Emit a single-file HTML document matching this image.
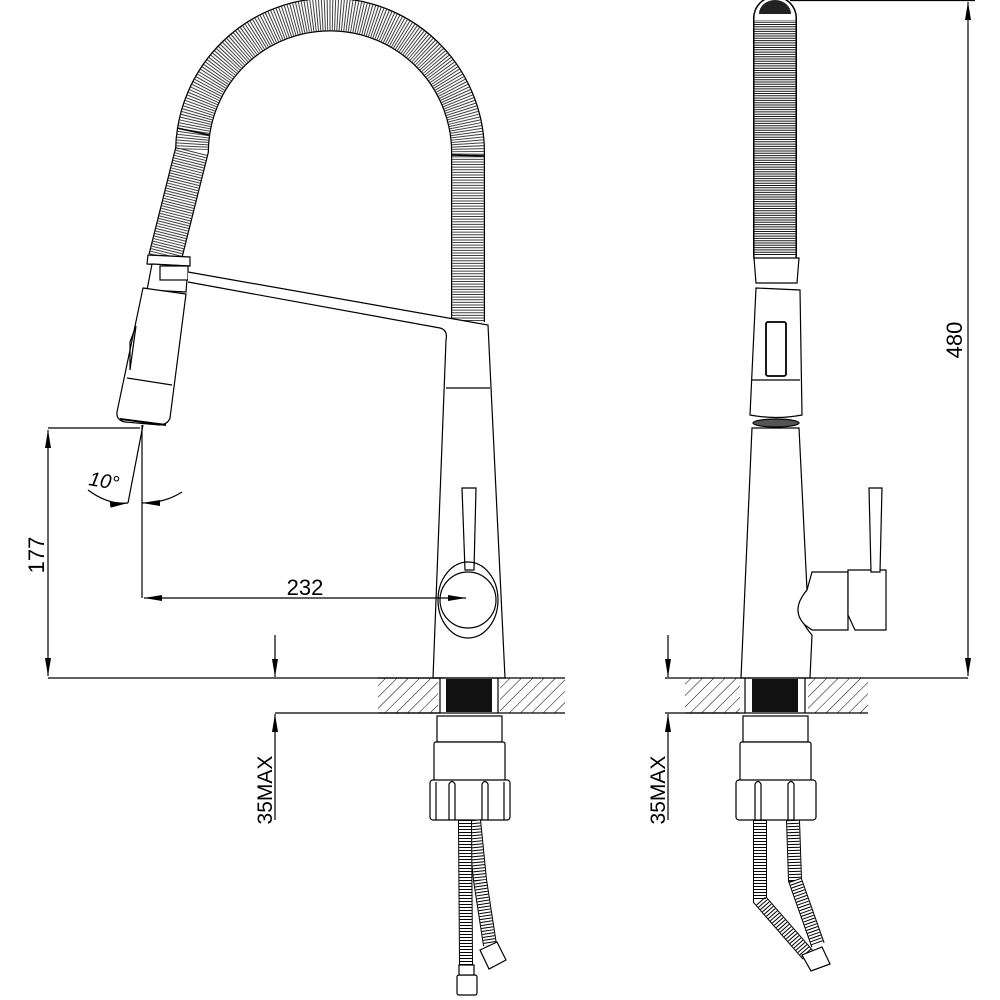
<!DOCTYPE html>
<html><head><meta charset="utf-8"><style>
html,body{margin:0;padding:0;background:#fff}
svg{display:block}
text{font-family:"Liberation Sans",sans-serif;fill:#000}
</style></head><body>
<svg width="1000" height="1000" viewBox="0 0 1000 1000" xmlns="http://www.w3.org/2000/svg">
<defs>
<pattern id="hatch" width="8" height="8" patternUnits="userSpaceOnUse" patternTransform="rotate(45)">
<line x1="0" y1="0" x2="0" y2="8" stroke="#000" stroke-width="1"/>
</pattern>
<marker id="ar" viewBox="0 0 18 6" refX="18" refY="3" markerWidth="18" markerHeight="6" orient="auto-start-reverse" markerUnits="userSpaceOnUse">
<path d="M0 0 L18 3 L0 6 Z" fill="#000"/>
</marker>
</defs>
<g fill="none" stroke="#000" stroke-width="1.2">

<!-- LEFT VIEW HOSE -->
<path d="M165 258 L192 150 A138 138 0 0 1 468 155 L468 322" stroke-width="34"/>
<path d="M165 258 L192 150 A138 138 0 0 1 468 155 L468 322" stroke="#fff" stroke-width="31.5"/>
<path d="M165 258 L192 150 A138 138 0 0 1 468 155 L468 322" stroke-width="31.5" stroke-dasharray="1 1.6" stroke-opacity="0.75"/>
<line x1="177" y1="128" x2="209" y2="135" stroke-width="1.5"/>
<line x1="452" y1="155" x2="485" y2="156" stroke-width="1.5"/>

<!-- collar & sleeve -->
<path d="M148 255 L190 257 L190 266 L147 264 Z" fill="#fff"/>
<path d="M152 264 L188 266 L186 292 L147 290 Z" fill="#fff"/>
<rect x="160" y="266" width="28" height="14" fill="#fff"/>
<!-- arm -->
<path d="M188 272 L488 325 L505 678 L433 678 L446 340 Q448 330 440 328 L188 282" fill="#fff"/>
<line x1="446" y1="388" x2="490" y2="388"/>
<!-- spray head -->
<path d="M143 288 L186 294 L170 418 Q168 424 160 425 L125 422 Q116 420 117 412 Z" fill="#fff"/>
<line x1="127" y1="378" x2="172" y2="385"/>
<path d="M130 342 L136 326 L130 370 Z"/>
<line x1="120" y1="419" x2="166" y2="425" stroke-width="2"/>
<!-- handle -->
<path d="M462 488 L476 488 L474 570 L465 570 Z" fill="#fff"/>
<ellipse cx="468" cy="600" rx="30" ry="38"/>
<circle cx="468" cy="600" r="28" fill="#fff"/>

<!-- counter left -->
<line x1="48" y1="678" x2="440" y2="678"/>
<line x1="275" y1="713" x2="440" y2="713"/>
<rect x="378" y="678" width="60" height="35" fill="url(#hatch)" stroke="none"/>
<rect x="500" y="678" width="65" height="35" fill="url(#hatch)" stroke="none"/>
<line x1="378" y1="678" x2="565" y2="678"/>
<line x1="378" y1="713" x2="565" y2="713"/>
<rect x="446" y="679" width="46" height="33" fill="#111" stroke="none"/>
<line x1="440" y1="678" x2="440" y2="713"/>
<line x1="498" y1="678" x2="498" y2="713"/>
<!-- under parts -->
<rect x="437" y="716" width="65" height="26" fill="#fff"/>
<rect x="434" y="742" width="71" height="40" rx="2" fill="#fff"/>
<rect x="430" y="780" width="80" height="40" rx="3" fill="#fff"/>
<path d="M449 820 V784 Q452 779 455 784 V820 M482 820 V784 Q485 779 488 784 V820 M436 820 V782 M504 820 V782"/>
<!-- braided hoses -->
<path d="M474 820 L480 880 L490 945" stroke-width="14"/>
<path d="M474 820 L480 880 L490 945" stroke="#fff" stroke-width="12"/>
<path d="M474 820 L480 880 L490 945" stroke-width="12" stroke-dasharray="1 2"/>
<path d="M465 820 L466 965" stroke-width="14"/>
<path d="M465 820 L466 965" stroke="#fff" stroke-width="12"/>
<path d="M465 820 L466 965" stroke-width="12" stroke-dasharray="1 2"/>
<path d="M480 950 L497 942 L506 960 L489 969 Z" fill="#fff"/>
<rect x="457" y="975" width="20" height="20" rx="2" fill="#fff"/>
<rect x="459" y="965" width="15" height="10" fill="#fff"/>

<!-- dimensions left -->
<line x1="48" y1="428" x2="140" y2="428"/>
<line x1="48" y1="430" x2="48" y2="676" marker-start="url(#ar)" marker-end="url(#ar)"/>
<line x1="142" y1="425" x2="142" y2="598"/>
<line x1="143" y1="425" x2="128" y2="503"/>
<path d="M88 490 Q108 505 128 503" marker-end="url(#ar)"/>
<path d="M182 492 Q165 503 142 503" marker-end="url(#ar)"/>
<line x1="144" y1="598" x2="466" y2="598" marker-start="url(#ar)" marker-end="url(#ar)"/>
<line x1="275" y1="635" x2="275" y2="677" marker-end="url(#ar)"/>
<line x1="275" y1="820" x2="275" y2="714" marker-end="url(#ar)"/>

<!-- RIGHT VIEW -->
<path d="M775 255 V18" stroke-width="44" stroke-linecap="round"/>
<path d="M775 255 V18" stroke="#fff" stroke-width="41" stroke-linecap="round"/>
<path d="M775 255 V20" stroke-width="41" stroke-dasharray="1 1.3" stroke-opacity="0.9"/>
<path d="M759 14 A16 14 0 0 1 791 14 Z" fill="#222" stroke="none"/>
<path d="M754 258 L799 258 L797 283 L756 283 Z" fill="#fff"/>
<path d="M756 288 L800 290 L802 415 Q776 420 750 415 Z" fill="#fff"/>
<line x1="752" y1="380" x2="800" y2="380"/>
<rect x="766" y="322" width="20" height="54" rx="2" stroke-width="1.8"/>
<ellipse cx="776" cy="423" rx="23" ry="4" fill="#555"/>
<path d="M752 428 L799 428 L807 590 Q790 610 812 635 L810 678 L741 678 Z" fill="#fff"/>
<path d="M807 590 L812 572 L848 572 L848 630 L812 630 L805 625 Q790 610 807 590 Z" fill="#fff"/>
<path d="M848 570 L886 570 L886 630 L855 630 L848 615 Z" fill="#fff"/>
<path d="M869 488 L882 488 L880 572 L871 572 Z" fill="#fff"/>

<!-- counter right -->
<line x1="665" y1="678" x2="968" y2="678"/>
<line x1="665" y1="713" x2="740" y2="713"/>
<rect x="685" y="678" width="55" height="35" fill="url(#hatch)" stroke="none"/>
<rect x="808" y="678" width="60" height="35" fill="url(#hatch)" stroke="none"/>
<line x1="685" y1="713" x2="868" y2="713"/>
<rect x="752" y="679" width="46" height="33" fill="#111" stroke="none"/>
<line x1="745" y1="678" x2="745" y2="713"/>
<line x1="805" y1="678" x2="805" y2="713"/>
<rect x="743" y="716" width="65" height="26" fill="#fff"/>
<rect x="740" y="742" width="71" height="40" rx="2" fill="#fff"/>
<rect x="736" y="780" width="80" height="40" rx="3" fill="#fff"/>
<path d="M755 820 V784 Q758 779 761 784 V820 M788 820 V784 Q791 779 794 784 V820"/>
<path d="M760 820 L760 900 L808 955" stroke-width="14"/>
<path d="M760 820 L760 900 L808 955" stroke="#fff" stroke-width="12"/>
<path d="M760 820 L760 900 L808 955" stroke-width="12" stroke-dasharray="1 2"/>
<path d="M793 820 L795 880 L818 945" stroke-width="14"/>
<path d="M793 820 L795 880 L818 945" stroke="#fff" stroke-width="12"/>
<path d="M793 820 L795 880 L818 945" stroke-width="12" stroke-dasharray="1 2"/>
<path d="M802 955 L822 947 L830 964 L811 971 Z" fill="#fff"/>

<!-- dimensions right -->
<line x1="790" y1="0.5" x2="975" y2="0.5"/>
<line x1="968" y1="2" x2="968" y2="676" marker-start="url(#ar)" marker-end="url(#ar)"/>
<line x1="668" y1="635" x2="668" y2="677" marker-end="url(#ar)"/>
<line x1="668" y1="820" x2="668" y2="714" marker-end="url(#ar)"/>
</g>

<text x="305" y="595" font-size="22" text-anchor="middle">232</text>
<text transform="translate(48,555) rotate(-90)" font-size="22" text-anchor="middle" dy="-4">177</text>
<text transform="translate(88,485) rotate(10)" font-size="20" font-style="italic">10°</text>
<text transform="translate(272,790) rotate(-90)" font-size="21" text-anchor="middle">35MAX</text>
<text transform="translate(665,790) rotate(-90)" font-size="21" text-anchor="middle">35MAX</text>
<text transform="translate(966,340) rotate(-90)" font-size="22" text-anchor="middle" dy="-4">480</text>
</svg>
</body></html>
